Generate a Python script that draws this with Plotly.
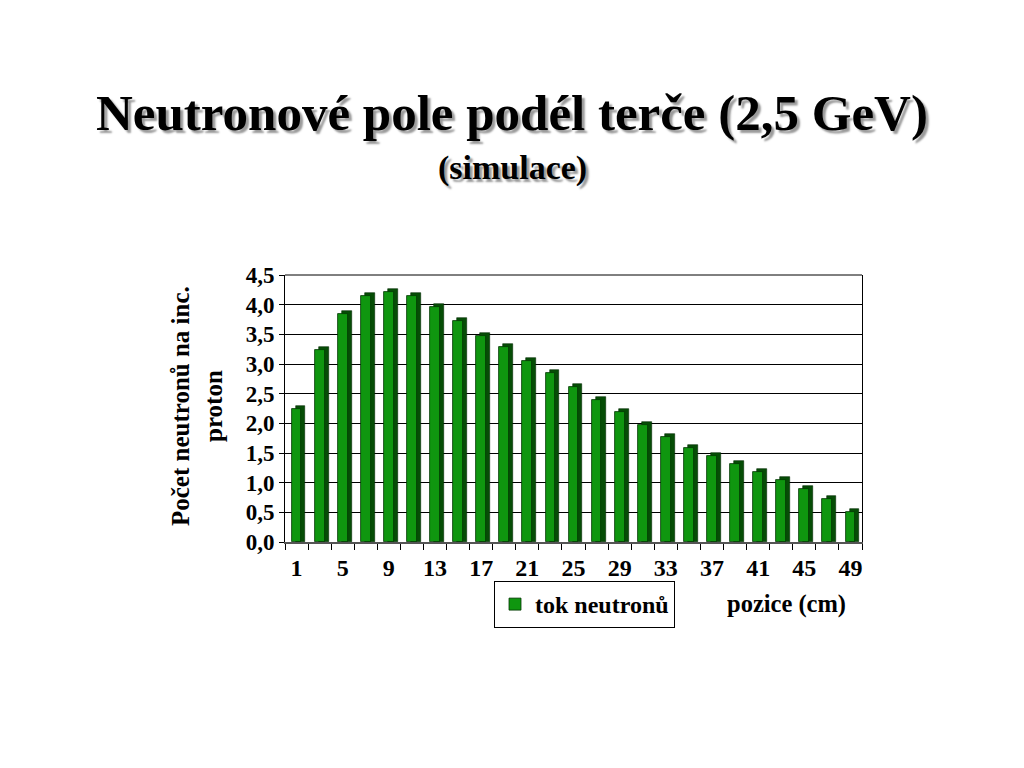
import plotly.graph_objects as go

positions = list(range(1, 50, 2))
values = [2.25, 3.24, 3.85, 4.14, 4.22, 4.14, 3.96, 3.73, 3.47, 3.28, 3.05, 2.85,
          2.61, 2.40, 2.19, 1.97, 1.77, 1.59, 1.45, 1.32, 1.18, 1.04, 0.89, 0.73, 0.50]
x_ticks = list(range(1, 50, 4))
y_ticks = [0, 0.5, 1.0, 1.5, 2.0, 2.5, 3.0, 3.5, 4.0, 4.5]
series_name = "tok neutronů"

W, H = 1024, 768
L, R, T, B = 285, 862, 275, 542
SERIF = "Liberation Serif, Times New Roman, serif"

fig = go.Figure()
# depth (3D side) of bars
fig.add_trace(go.Bar(
    x=[p + 0.35 for p in positions], y=[v + 0.05 for v in values], width=0.85,
    marker=dict(color="#064d06", line=dict(color="#022a02", width=0.6)),
    showlegend=False, hoverinfo="skip"))
fig.add_trace(go.Bar(
    x=positions, y=values, width=0.85, name=series_name,
    marker=dict(color="#0f960f", line=dict(color="#033503", width=0.8))))

fig.update_layout(
    width=W, height=H, margin=dict(l=0, r=0, t=0, b=0, autoexpand=False),
    paper_bgcolor="white", plot_bgcolor="white",
    barmode="overlay", bargap=0, separators=", ",
    font=dict(family=SERIF, color="black"),
    xaxis=dict(domain=[L / W, R / W], range=[0, 50], tickvals=x_ticks,
               ticktext=[str(t) for t in x_ticks], ticks="", showgrid=False,
               showline=True, linecolor="#555555", linewidth=2, mirror=False,
               ticklabelstandoff=3,
               tickfont=dict(size=24, family=SERIF, weight="bold"), zeroline=False,
               minor=dict(tick0=0, dtick=2, ticks="outside", ticklen=6,
                          tickcolor="black", showgrid=False)),
    yaxis=dict(domain=[1 - B / H, 1 - T / H], range=[0, 4.5], tickvals=y_ticks,
               tickformat=".1f", ticks="outside", ticklen=5, tickcolor="black",
               showgrid=True, gridcolor="black", gridwidth=1,
               showline=True, linecolor="black", linewidth=1, mirror=True,
               zeroline=False, tickfont=dict(size=23, family=SERIF, weight="bold")),
    legend=dict(x=494 / W, y=1 - 581 / H, xanchor="left", yanchor="top",
                bordercolor="black", borderwidth=1, bgcolor="white",
                font=dict(size=24, family=SERIF, weight="bold"),
                itemwidth=30, tracegroupgap=0),
    showlegend=True,
)
# top border line
fig.add_shape(type="line", xref="paper", yref="paper", x0=L / W, x1=R / W,
              y0=1 - T / H, y1=1 - T / H, line=dict(color="black", width=1))

anns = [
    dict(text="Neutronové pole podél terče (2,5 GeV)", x=512, y=113, size=51),
    dict(text="(simulace)", x=512, y=168, size=34),
]
for a in anns:
    fig.add_annotation(text=a["text"], xref="paper", yref="paper",
                       x=a["x"] / W, y=1 - a["y"] / H, showarrow=False,
                       xanchor="center", yanchor="middle",
                       font=dict(size=a["size"], family=SERIF, weight="bold",
                                 color="black", shadow="3px 3px 2px #9a9a9a"))

fig.add_annotation(text="Počet neutronů na inc.<br>proton", xref="paper", yref="paper",
                   x=197 / W, y=1 - 406 / H, showarrow=False, textangle=-90,
                   xanchor="center", yanchor="middle",
                   font=dict(size=25, family=SERIF, weight="bold"))
fig.add_annotation(text="pozice (cm)", xref="paper", yref="paper",
                   x=786 / W, y=1 - 604 / H, showarrow=False,
                   xanchor="center", yanchor="middle",
                   font=dict(size=24.5, family=SERIF, weight="bold"))

fig.write_html("out.html", config={"displayModeBar": False},
               post_script="document.body.style.margin='0';")
